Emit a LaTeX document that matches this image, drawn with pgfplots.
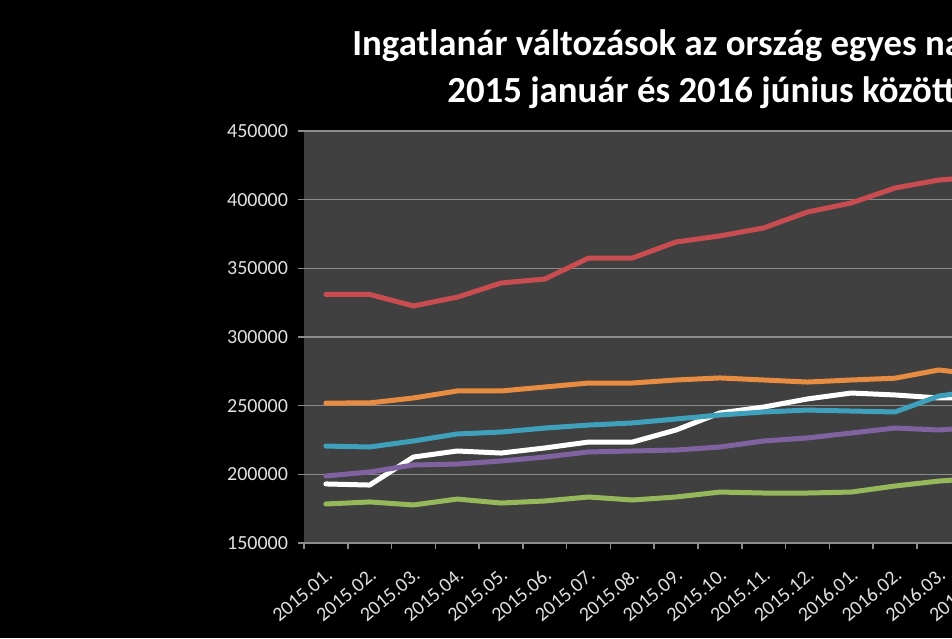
\documentclass[border=0pt]{standalone}
\usepackage{pgfplots}
\pgfplotsset{compat=1.18}
\usepackage{pgfplotstable}
\usepackage{fontspec}
\setmainfont{Carlito}
\definecolor{plotbg}{RGB}{64,64,64}
\definecolor{gridc}{RGB}{140,140,140}
\definecolor{labc}{RGB}{225,225,225}
\definecolor{sred}{RGB}{200,76,80}
\definecolor{sorange}{RGB}{232,140,66}
\definecolor{scyan}{RGB}{62,160,186}
\definecolor{spurple}{RGB}{128,98,160}
\definecolor{sgreen}{RGB}{150,184,90}

\pgfplotstableread{
i white red green purple cyan orange
0 193000 331000 178400 198800 220600 251900
1 192200 331000 179900 201700 219900 252000
2 212600 322600 177700 206800 224300 255600
3 217000 329000 182000 207500 229400 260700
4 215500 339300 179100 209700 230800 260700
5 219200 342200 180600 212600 233700 263600
6 223500 357500 183500 216300 235900 266500
7 223500 357500 181300 217000 237400 266500
8 232300 369200 183500 217700 240300 268700
9 244700 373600 187100 219900 243200 270200
10 249000 379400 186400 224300 245400 268700
11 254900 391000 186400 226500 246800 267200
12 259200 397600 187100 230100 246100 268700
13 257800 408500 191500 233700 245400 270000
14 255600 414300 195100 232300 257000 276000
15 256000 416800 197300 234500 261400 272300
}\prices

\begin{document}
\begin{tikzpicture}
\path[use as bounding box, clip] (0pt,0pt) rectangle (476pt,319pt);
\fill[black] (0pt,0pt) rectangle (476pt,319pt);
\node[anchor=base west, inner sep=0pt, text=white, font=\fontsize{18.4}{22}\selectfont\bfseries] at (176pt,291pt) {Ingatlanár változások az ország egyes nagyvárosaiban};
\node[anchor=base west, inner sep=0pt, text=white, font=\fontsize{18.4}{22}\selectfont\bfseries] at (223.5pt,267.5pt) {2015 január és 2016 június között};
\begin{axis}[
  at={(152pt,47.5pt)}, anchor=south west,
  scale only axis, width=394pt, height=206pt,
  xmin=-0.5, xmax=17.5, ymin=150000, ymax=450000,
  axis background/.style={fill=plotbg},
  axis line style={draw=none},
  ymajorgrids, major grid style={draw=gridc, line width=0.8pt},
  ytick={150000,200000,250000,300000,350000,400000,450000},
  scaled y ticks=false,
  yticklabel={\pgfmathprintnumber[fixed,precision=0,1000 sep={},assume math mode=true]{\tick}},
  tick pos=left, tick align=outside,
  major tick length=3pt, minor tick length=3pt,
  xtick={0,...,17},
  xticklabels={2015.01.,2015.02.,2015.03.,2015.04.,2015.05.,2015.06.,2015.07.,2015.08.,2015.09.,2015.10.,2015.11.,2015.12.,2016.01.,2016.02.,2016.03.,2016.04.,2016.05.,2016.06.},
  xtick style={draw=none},
  minor xtick={-0.5,0.5,...,17.5},
  minor x tick style={draw=gridc, line width=0.8pt},
  ytick style={draw=gridc, line width=0.8pt},
  tick label style={font=\fontsize{10}{11}\selectfont, text=labc},
  yticklabel style={xshift=-1.5pt},
  xticklabel style={rotate=40, anchor=east, yshift=-10pt, xshift=-2.5pt},
  every axis plot/.append style={line width=2.5pt, line join=round, line cap=round, mark=none},
]
\addplot[white] table[x=i, y=white] {\prices};
\addplot[sred] table[x=i, y=red] {\prices};
\addplot[sgreen] table[x=i, y=green] {\prices};
\addplot[spurple] table[x=i, y=purple] {\prices};
\addplot[scyan] table[x=i, y=cyan] {\prices};
\addplot[sorange] table[x=i, y=orange] {\prices};
\end{axis}
\end{tikzpicture}
\end{document}
